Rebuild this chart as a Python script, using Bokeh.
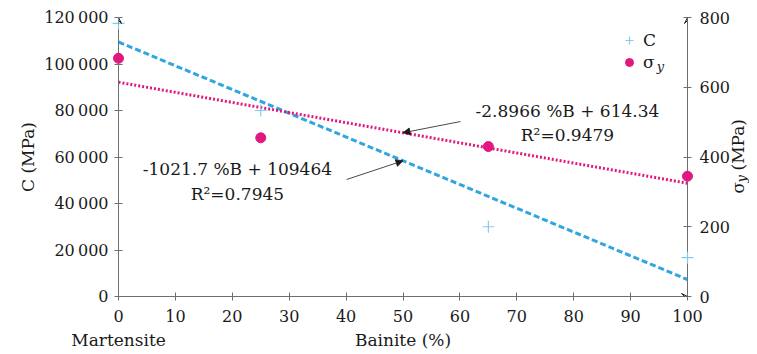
import math
from bokeh.plotting import figure
from bokeh.models import (Range1d, LinearAxis, FixedTicker, Label, Arrow, VeeHead,
                          NormalHead, Legend, LegendItem)
from bokeh.core.properties import value
from bokeh.embed import file_html
from bokeh.resources import INLINE

# ---------------- data ----------------
bainite = [0, 25, 65, 100]
c_values = [117500, 80000, 30000, 16700]
sigma_values = [683, 455, 430, 345]

fit_x = [0, 100]
c_fit_slope, c_fit_intercept = -1021.7, 109464
s_fit_slope, s_fit_intercept = -2.8966, 614.34

c_eq_text = ["-1021.7 %B + 109464", "R\u00b2=0.7945"]
s_eq_text = ["-2.8966 %B + 614.34", "R\u00b2=0.9479"]

x_ticks = [0, 10, 20, 30, 40, 50, 60, 70, 80, 90, 100]
c_ticks = [0, 20000, 40000, 60000, 80000, 100000, 120000]
c_tick_labels = ["0", "20\u2009000", "40\u2009000", "60\u2009000", "80\u2009000",
                 "100\u2009000", "120\u2009000"]
s_ticks = [0, 200, 400, 600, 800]

# ---------------- style ----------------
FONT = "DejaVu Serif"
BLUE = "#2fa6df"
BLUE_LIGHT = "#86cbeb"
PINK = "#e0187f"
AXIS = "#6e6e6e"
TXT = "#1a1a1a"

p = figure(frame_width=569, frame_height=279, output_backend="svg", toolbar_location=None,
           x_range=Range1d(0, 100), y_range=Range1d(0, 120000),
           min_border_left=118, min_border_right=62, min_border_top=17, min_border_bottom=50,
           x_axis_label="Bainite (%)", y_axis_label="C (MPa)")
p.extra_y_ranges = {"s": Range1d(0, 800)}
p.outline_line_color = None
p.xgrid.visible = False
p.ygrid.visible = False
p.background_fill_color = "white"
p.border_fill_color = "white"

raxis = LinearAxis(y_range_name="s", ticker=FixedTicker(ticks=s_ticks))
p.add_layout(raxis, "right")

for ax in [p.xaxis[0], p.yaxis[0], raxis]:
    ax.axis_line_color = AXIS
    ax.axis_line_width = 1
    ax.major_tick_line_color = AXIS
    ax.major_tick_in = 4
    ax.major_tick_out = 4
    ax.minor_tick_line_color = None
    ax.major_label_text_font = FONT
    ax.major_label_text_font_size = "16px"
    ax.major_label_text_color = TXT
    ax.axis_label_text_font = FONT
    ax.axis_label_text_font_size = "17px"
    ax.axis_label_text_font_style = "normal"
    ax.axis_label_text_color = TXT

p.xaxis.ticker = FixedTicker(ticks=x_ticks)
p.xaxis.major_label_standoff = 9
p.xaxis.axis_label_standoff = 5
p.yaxis[0].ticker = FixedTicker(ticks=c_ticks)
p.yaxis[0].major_label_overrides = {t: l for t, l in zip(c_ticks, c_tick_labels)}
p.yaxis[0].major_label_standoff = 6
p.yaxis[0].axis_label_standoff = 3
raxis.major_label_standoff = 8

# axis arrows
p.add_layout(Arrow(end=VeeHead(size=6, line_color=TXT, line_width=1, fill_color=None),
                   x_start=0, y_start=117000, x_end=0, y_end=120000, line_color=AXIS, line_width=1))
p.add_layout(Arrow(end=VeeHead(size=6, line_color=TXT, line_width=1, fill_color=None),
                   x_start=100, y_start=780, x_end=100, y_end=800, y_range_name="s",
                   line_color=AXIS, line_width=1))
p.add_layout(Arrow(end=VeeHead(size=6, line_color=TXT, line_width=1, fill_color=None),
                   x_start=98, y_start=0, x_end=100, y_end=0, line_color=AXIS, line_width=1))

# trend lines
c_fit = [c_fit_intercept + c_fit_slope * x for x in fit_x]
s_fit = [s_fit_intercept + s_fit_slope * x for x in fit_x]
p.line(fit_x, c_fit, line_color=BLUE, line_width=3, line_dash="6 3")
p.line(fit_x, s_fit, line_color=PINK, line_width=3, line_dash="2 2", y_range_name="s")

# data points
rc = p.scatter(bainite, c_values, marker="cross", size=12, line_color=BLUE_LIGHT, line_width=1.2)
rs = p.scatter(bainite, sigma_values, marker="circle", size=10, fill_color=PINK, line_color=PINK,
               y_range_name="s")
rc.level = "annotation"
rs.level = "annotation"

# legend
legend = Legend(items=[LegendItem(label="C", renderers=[rc]), LegendItem(label="\u03c3", renderers=[rs])],
                location=(501, 224), padding=0, margin=0, spacing=2,
                glyph_width=20, glyph_height=20, label_height=20, label_standoff=4,
                border_line_color=None, background_fill_alpha=0,
                label_text_font=FONT, label_text_font_size="17px", label_text_color=TXT)
p.add_layout(legend, "center")
p.add_layout(Label(x=94.6, y=(296 - 66) * 430.1, text="y", text_font=FONT, text_font_size="13px",
                   text_font_style="italic", text_color=TXT, text_align="left", text_baseline="middle"))

# texts outside the frame: drawn as text glyphs at overlay level (not clipped)
xr = 108.95
t1 = p.text(x=[xr, xr], y=[(296 - 193) * 430.1, (296 - 170) * 430.1], text=["\u03c3", "(MPa)"],
            angle=math.pi / 2, text_font=value(FONT), text_font_size="17px", text_color=TXT,
            text_align="left", text_baseline="middle")
t2 = p.text(x=[xr], y=[(296 - 182) * 430.1], text=["y"], x_offset=3,
            angle=math.pi / 2, text_font=value(FONT), text_font_size="13px", text_font_style="italic",
            text_color=TXT, text_align="left", text_baseline="middle")
t3 = p.text(x=[0], y=[(296 - 340) * 430.1], text=["Martensite"], text_font=value(FONT),
            text_font_size="17px", text_color=TXT, text_align="center", text_baseline="middle")
for r in (t1, t2, t3):
    r.level = "overlay"

# equation annotations
for i, t in enumerate(s_eq_text):
    p.add_layout(Label(x=78.9, y=80000 - i * 10750, text=t, text_font=FONT, text_font_size="17px",
                       text_color=TXT, text_align="center", text_baseline="middle"))
for i, t in enumerate(c_eq_text):
    p.add_layout(Label(x=20.9, y=55050 - i * 10750, text=t, text_font=FONT, text_font_size="17px",
                       text_color=TXT, text_align="center", text_baseline="middle"))

arrow_x = 50
p.add_layout(Arrow(end=NormalHead(size=7, line_color=TXT, fill_color=TXT, line_width=0.8),
                   x_start=60.1, y_start=501.7, x_end=arrow_x,
                   y_end=s_fit_intercept + s_fit_slope * arrow_x, y_range_name="s",
                   line_color=TXT, line_width=0.8))
p.add_layout(Arrow(end=NormalHead(size=7, line_color=TXT, fill_color=TXT, line_width=0.8),
                   x_start=40.1, y_start=50320, x_end=arrow_x,
                   y_end=c_fit_intercept + c_fit_slope * arrow_x,
                   line_color=TXT, line_width=0.8))

open("out.html", "w").write(file_html(p, INLINE))
